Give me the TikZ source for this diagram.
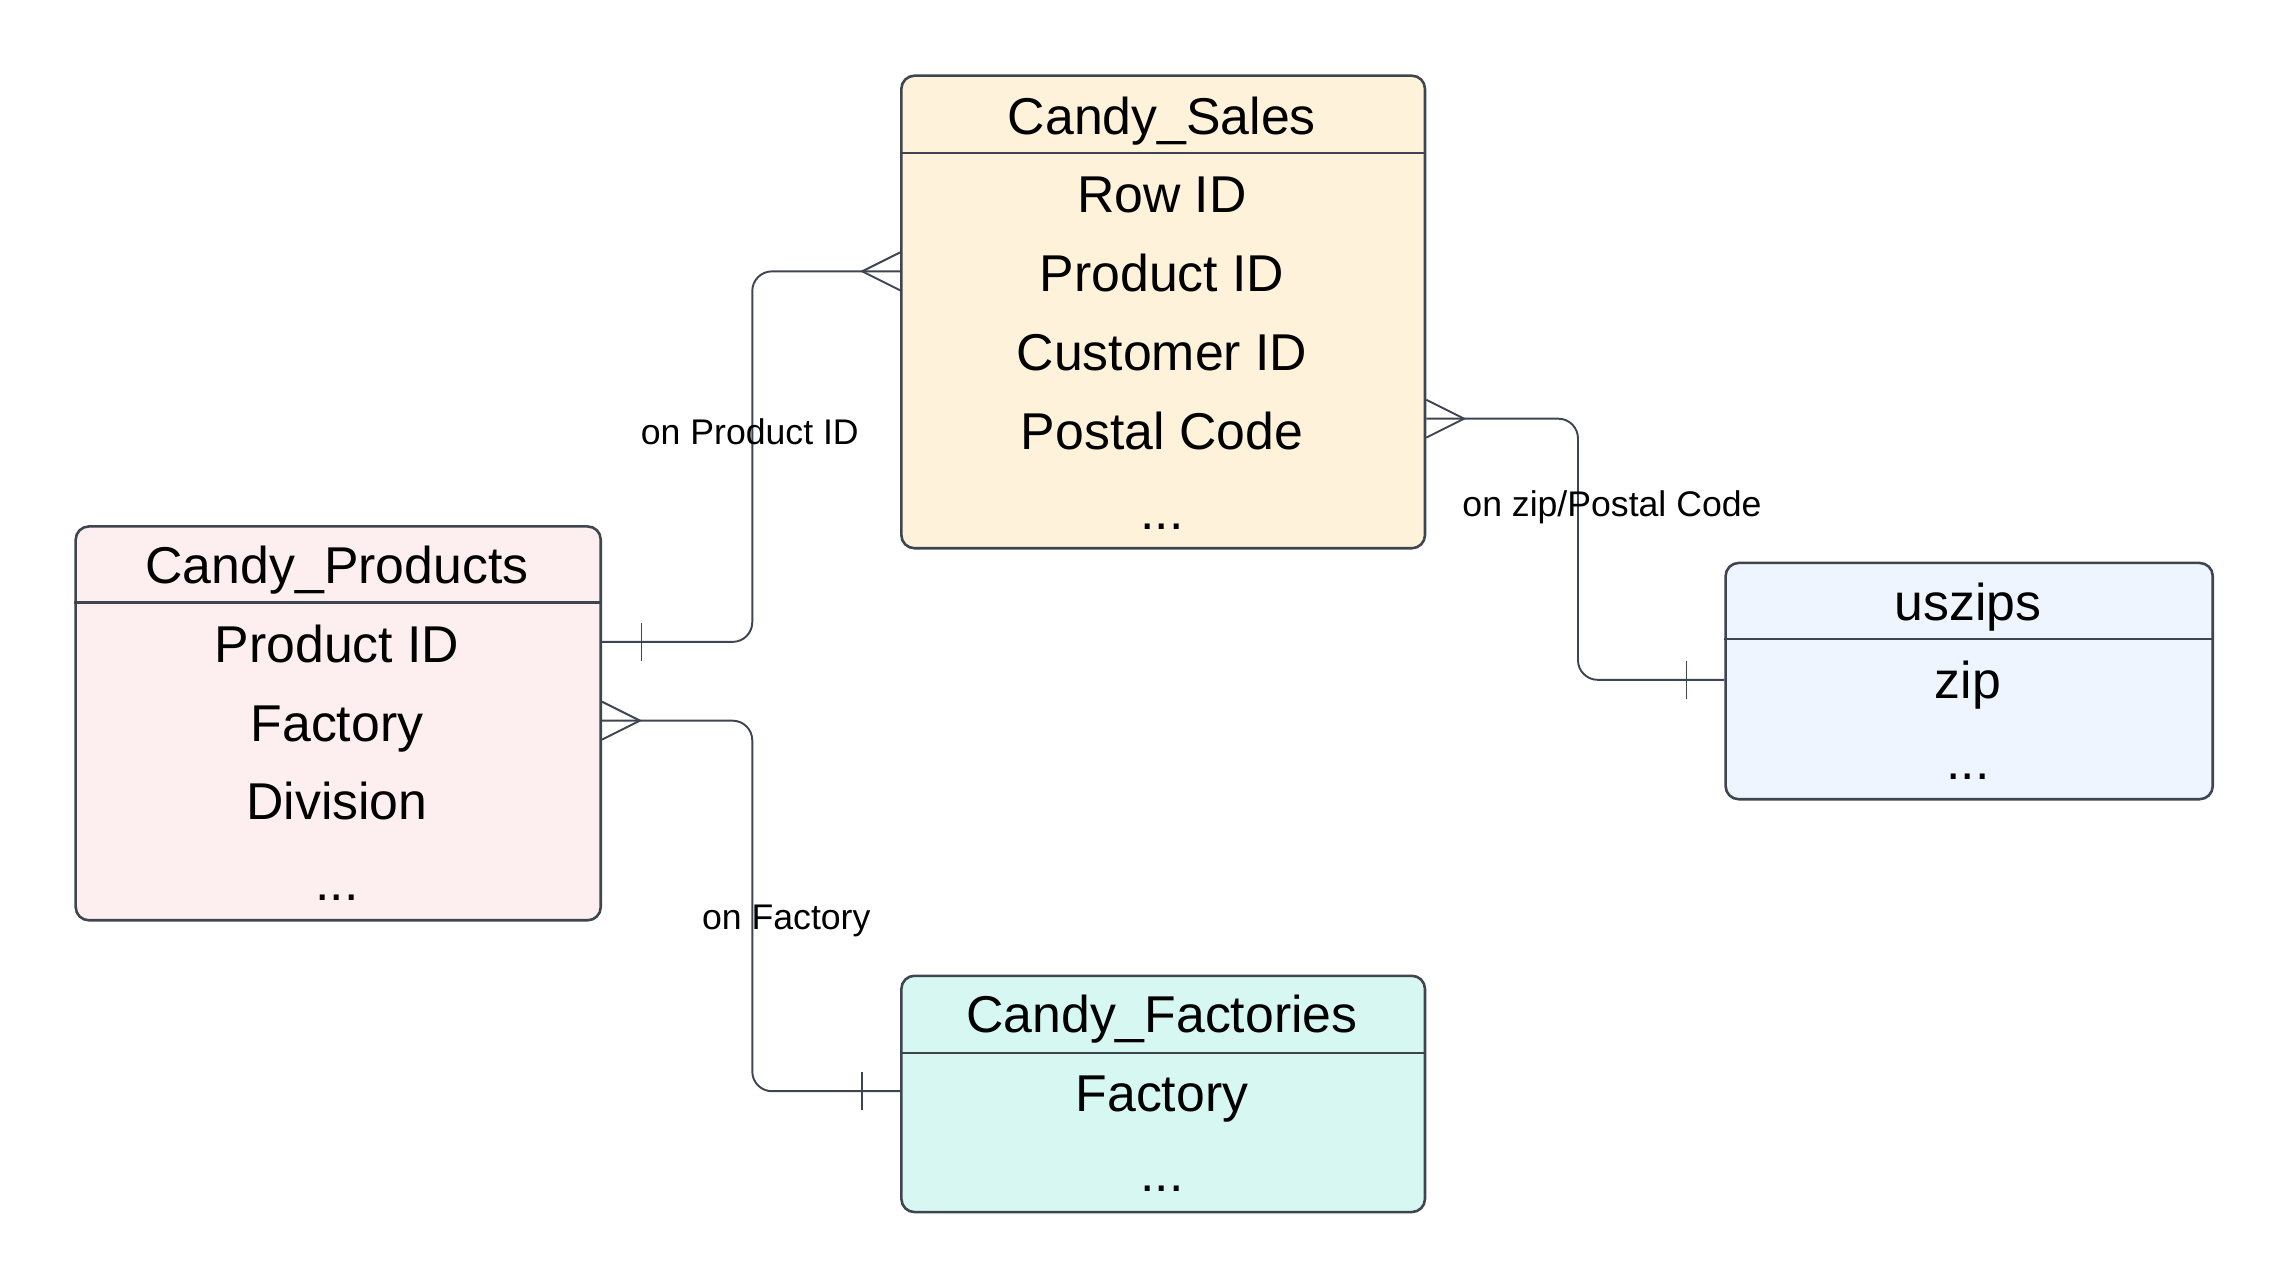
\documentclass[tikz,border=0pt]{standalone}
\usepackage{fontspec}
\setmainfont{Liberation Sans}
\definecolor{edgegray}{HTML}{3F4550}
\definecolor{salesfill}{HTML}{FEF3DA}
\definecolor{prodfill}{HTML}{FDEFEF}
\definecolor{zipfill}{HTML}{EEF5FE}
\definecolor{factfill}{HTML}{D6F7F2}
\tikzset{
  entity/.style={draw=edgegray, line width=1pt, rounded corners=0.18cm, anchor=north west, inner sep=0pt},
  field/.style={anchor=base, inner sep=0pt, font=\fontsize{20.2}{24}\selectfont},
  relabel/.style={inner sep=0pt, font=\fontsize{13.9}{16}\selectfont},
  link/.style={draw=edgegray, line width=0.75pt, rounded corners=0.27cm},
  crow/.style={draw=edgegray, line width=0.75pt, sharp corners},
  onebar/.style={draw=edgegray, line width=0.6pt},
  headrule/.style={draw=edgegray, line width=0.8pt}
}
\begin{document}
\begin{tikzpicture}[x=0.02cm, y=-0.02cm]
\useasboundingbox (0,0) rectangle (1568.4,881.5);
% Candy_Sales
\node[entity, fill=salesfill, minimum width=7.18cm, minimum height=6.48cm] (sales) at (617,51) {};
\draw[headrule] (sales.west |- 0,105) -- (sales.east |- 0,105);
\node[field] (salesT) at (796.5,92) {Candy\_Sales};
\node[field] (salesRow) at (796.5,146) {Row ID};
\node[field] (salesPid) at (796.5,200) {Product ID};
\node[field] (salesCid) at (796.5,254) {Customer ID};
\node[field] (salesPost) at (796.5,308) {Postal Code};
\node[field] (salesMore) at (796.5,363) {...};
% Candy_Products
\node[entity, fill=prodfill, minimum width=7.2cm, minimum height=5.4cm] (prod) at (51,360) {};
\draw[headrule] (prod.west |- 0,413) -- (prod.east |- 0,413);
\node[field] (prodT) at (231,400) {Candy\_Products};
\node[field] (prodPid) at (231,454) {Product ID};
\node[field] (prodFac) at (231,508) {Factory};
\node[field] (prodDiv) at (231,562) {Division};
\node[field] (prodMore) at (231,617) {...};
% uszips
\node[entity, fill=zipfill, minimum width=6.68cm, minimum height=3.24cm] (zips) at (1182,385) {};
\draw[headrule] (zips.west |- 0,438) -- (zips.east |- 0,438);
\node[field] (zipsT) at (1349,425) {uszips};
\node[field] (zipsZip) at (1349,479) {zip};
\node[field] (zipsMore) at (1349,534) {...};
% Candy_Factories
\node[entity, fill=factfill, minimum width=7.18cm, minimum height=3.24cm] (fact) at (617,668) {};
\draw[headrule] (fact.west |- 0,722) -- (fact.east |- 0,722);
\node[field] (factT) at (796.5,708) {Candy\_Factories};
\node[field] (factFac) at (796.5,762) {Factory};
\node[field] (factMore) at (796.5,817) {...};
% ends of the connectors
\coordinate (pPid) at (prod.east |- 0,440);
\coordinate (pFac) at (prod.east |- 0,494);
\coordinate (sPid) at (sales.west |- 0,186);
\coordinate (sPost) at (sales.east |- 0,287);
\coordinate (zZip) at (zips.west |- 0,466);
\coordinate (fFac) at (fact.west |- 0,748);
% on Product ID
\draw[link] (pPid) -- ++(103,0) |- (sPid);
\draw[crow] (sPid) ++(0,-13) -- ++(-26,13) -- ++(26,13);
\draw[onebar] (pPid) ++(27,-13) -- ++(0,26);
\node[relabel] (lblPid) at (514,296) {on Product ID};
% on zip/Postal Code
\draw[link] (sPost) -- ++(104,0) |- (zZip);
\draw[crow] (sPost) ++(0,-13) -- ++(26,13) -- ++(-26,13);
\draw[onebar] (zZip) ++(-26,-13) -- ++(0,26);
\node[relabel] (lblZip) at (1105,348) {on zip/Postal Code};
% on Factory
\draw[link] (pFac) -- ++(103,0) |- (fFac);
\draw[crow] (pFac) ++(0,-13) -- ++(26,13) -- ++(-26,13);
\draw[onebar] (fFac) ++(-26,-13) -- ++(0,26);
\node[relabel] (lblFac) at (539,631) {on Factory};
\end{tikzpicture}
\end{document}
